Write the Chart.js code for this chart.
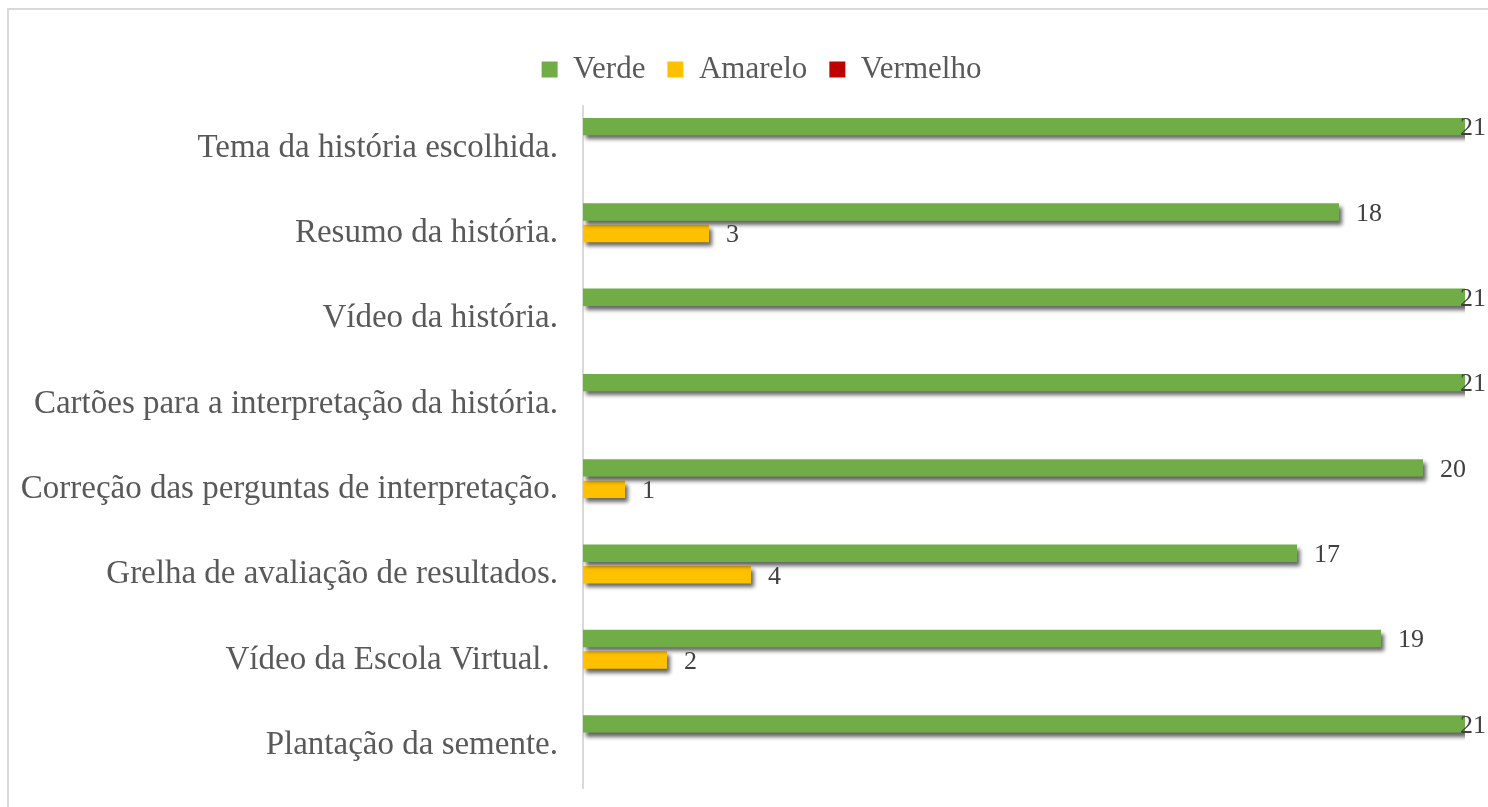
<!DOCTYPE html>
<html>
<head>
<meta charset="utf-8">
<script src="https://cdn.jsdelivr.net/npm/chart.js@4"></script>
<style>
    html, body { margin: 0; padding: 0; background: #fff; overflow: hidden; }
    #wrap { position: absolute; left: 0; top: 0; width: 1488px; height: 807px; overflow: hidden; }
    #chart { position: absolute; left: 0; top: 0; }
    #frame {
        position: absolute; left: 7px; top: 8px; width: 1500px; height: 820px;
        border: 2px solid #d9d9d9; pointer-events: none;
    }
</style>
</head>
<body>
<div id="wrap">
    <canvas id="chart" width="1546" height="807"></canvas>
    <div id="frame"></div>
</div>
<script>
    // ── Données ──
    const categories = [
        'Tema da história escolhida.',
        'Resumo da história.',
        'Vídeo da história.',
        'Cartões para a interpretação da história.',
        'Correção das perguntas de interpretação.',
        'Grelha de avaliação de resultados.',
        'Vídeo da Escola Virtual. ',
        'Plantação da semente.'
    ];
    const verde    = [21, 18, 21, 21, 20, 17, 19, 21];
    const amarelo  = [0, 3, 0, 0, 1, 4, 2, 0];
    const vermelho = [0, 0, 0, 0, 0, 0, 0, 0];
    const axisMax  = 21;

    const FONT = "'Liberation Serif', 'Times New Roman', serif";
    const VISIBLE_RIGHT = 1486;   // bord droit visible de la page

    // ── Ombre des barres ──
    const barShadow = {
        id: 'barShadow',
        beforeDatasetsDraw(chart) {
            const ctx = chart.ctx;
            ctx.save();
            ctx.shadowColor = 'rgba(0,0,0,0.6)';
            ctx.shadowOffsetX = 3;
            ctx.shadowOffsetY = 4;
            ctx.shadowBlur = 4;
        },
        afterDatasetsDraw(chart) {
            chart.ctx.restore();
        }
    };

    // ── Étiquettes de valeurs ──
    const valueLabels = {
        id: 'valueLabels',
        afterDraw(chart) {
            const ctx = chart.ctx;
            ctx.save();
            ctx.font = '26px ' + FONT;
            ctx.fillStyle = '#404040';
            ctx.textBaseline = 'middle';
            ctx.textAlign = 'left';
            chart.data.datasets.forEach((ds, i) => {
                chart.getDatasetMeta(i).data.forEach((bar, j) => {
                    const v = ds.data[j];
                    if (!v) return;
                    const txt = String(v);
                    const w = ctx.measureText(txt).width;
                    let x = bar.x + 17;
                    if (x + w > VISIBLE_RIGHT) x = VISIBLE_RIGHT - w;
                    ctx.fillText(txt, x, bar.y + 2);
                });
            });
            ctx.restore();
        }
    };

    new Chart(document.getElementById('chart'), {
        type: 'bar',
        data: {
            labels: categories,
            datasets: [
                { label: 'Verde',    data: verde,    backgroundColor: '#70AD47' },
                { label: 'Amarelo',  data: amarelo,  backgroundColor: '#FFC000' },
                { label: 'Vermelho', data: vermelho, backgroundColor: '#C00000' }
            ]
        },
        options: {
            indexAxis: 'y',
            responsive: false,
            animation: false,
            categoryPercentage: 0.756,
            barPercentage: 0.81,
            layout: { padding: { left: 0, right: 23, top: 32, bottom: 19 } },
            plugins: {
                legend: {
                    position: 'top',
                    labels: {
                        boxWidth: 16,
                        boxHeight: 16,
                        padding: 22,
                        color: '#595959',
                        font: { family: FONT, size: 31 }
                    }
                },
                tooltip: { enabled: false }
            },
            scales: {
                x: {
                    position: 'top',
                    min: 0,
                    max: axisMax,
                    ticks: { display: false },
                    grid: { display: false },
                    border: { display: false },
                    afterFit: s => { s.height = 10.5; }
                },
                y: {
                    grid: { display: false, drawTicks: false },
                    border: { display: true, color: '#d9d9d9', width: 2 },
                    ticks: {
                        padding: 25,
                        color: '#595959',
                        font: { family: FONT, size: 33 }
                    },
                    afterFit: s => {
                        s.width = 583;
                        s.paddingTop = 0;
                        s.paddingBottom = 0;
                    }
                },
                // marge droite invisible (centre la légende comme l'original)
                yRight: {
                    type: 'category',
                    axis: 'y',
                    position: 'right',
                    ticks: { display: false },
                    grid: { display: false },
                    border: { display: false },
                    afterFit: s => {
                        s.width = 58;
                        s.paddingTop = 0;
                        s.paddingBottom = 0;
                    }
                }
            }
        },
        plugins: [barShadow, valueLabels]
    });
</script>
</body>
</html>
